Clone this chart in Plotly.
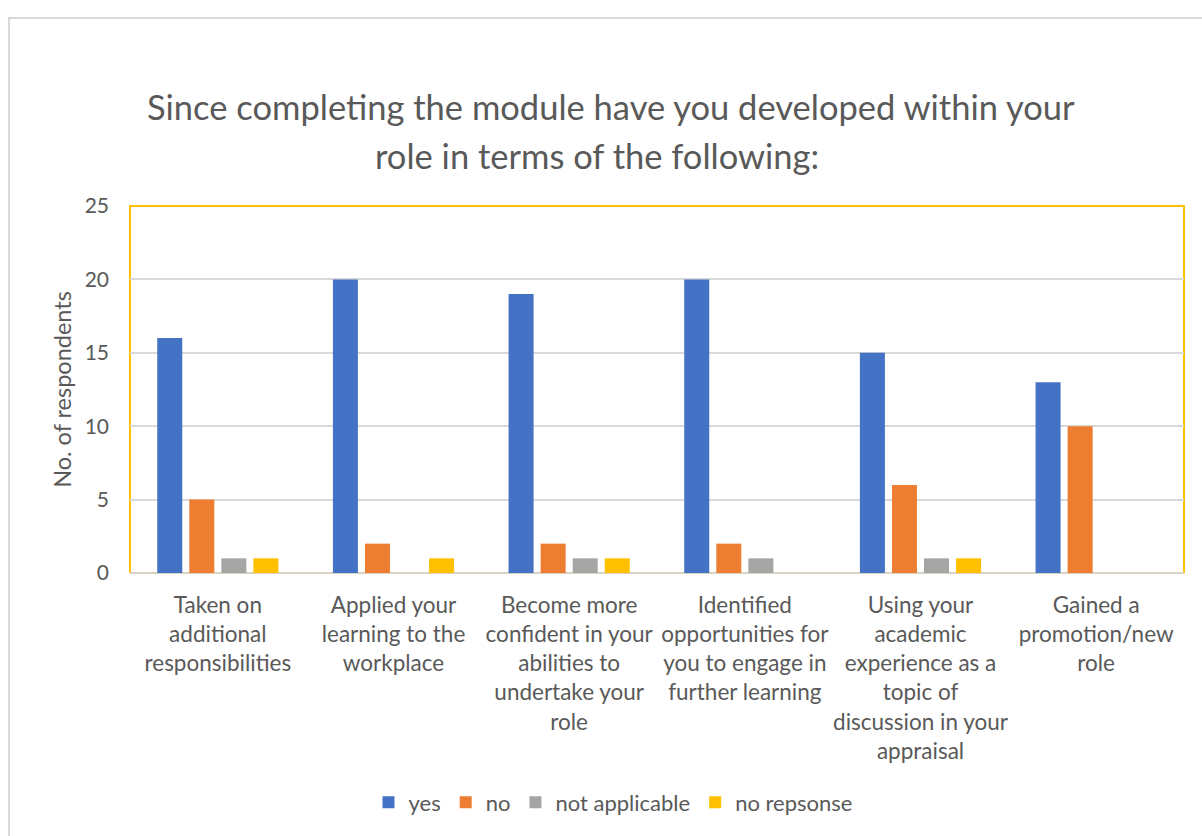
import plotly.graph_objects as go

categories = [
    "Taken on<br>additional<br>responsibilities",
    "Applied your<br>learning to the<br>workplace",
    "Become more<br>confident in your<br>abilities to<br>undertake your<br>role",
    "Identified<br>opportunities for<br>you to engage in<br>further learning",
    "Using your<br>academic<br>experience as a<br>topic of<br>discussion in your<br>appraisal",
    "Gained a<br>promotion/new<br>role",
]
yes = [16, 20, 19, 20, 15, 13]
no = [5, 2, 2, 2, 6, 10]
not_applicable = [1, 0, 1, 1, 1, 0]
no_response = [1, 1, 1, 0, 1, 0]

series = [
    ("yes", yes, "#4472C4"),
    ("no", no, "#ED7D31"),
    ("not applicable", not_applicable, "#A5A5A5"),
    ("no repsonse", no_response, "#FFC000"),
]

FONT = "Lato"
TXT = "#595959"

fig = go.Figure()
for name, vals, col in series:
    fig.add_trace(go.Bar(x=categories, y=vals, name=name,
                         marker=dict(color=col, line=dict(width=0))))

W, H = 1202, 836
L, R, T, B = 130, 18, 206, 259
PW, PH = W - L - R, H - T - B


def px(x):
    return (x - L) / PW


def py(y):
    return (H - B - y) / PH


fig.update_layout(
    width=W, height=H,
    margin=dict(l=L, r=R, t=T, b=B),
    paper_bgcolor="white", plot_bgcolor="white",
    barmode="group", bargap=0.27, bargroupgap=0.22,
    font=dict(family=FONT, color=TXT, size=22),
    showlegend=True,
    legend=dict(orientation="h", x=px(613), xanchor="center", y=py(809), yanchor="middle",
                font=dict(size=22, color=TXT), traceorder="normal"),
    xaxis=dict(showgrid=False, showline=False, ticks="", tickfont=dict(size=22.5, color=TXT),
               tickangle=0, automargin=False, ticklabelstandoff=16),
    yaxis=dict(range=[0, 25], dtick=5, showgrid=True, gridcolor="#D9D9D9", gridwidth=1.5,
               zeroline=True, zerolinecolor="#D9D3C4", zerolinewidth=2,
               showline=False, ticks="", tickfont=dict(size=21, color=TXT),
               ticklabelstandoff=20,
               title=dict(text="No. of respondents", font=dict(size=23.5, color=TXT), standoff=6),
               automargin=False),
    shapes=[
        dict(type="path", xref="paper", yref="paper",
             path="M 0 0 L 0 1 L 1 1 L 1 0",
             line=dict(color="#FFC000", width=2), fillcolor="rgba(0,0,0,0)", layer="below"),
        dict(type="rect", xref="paper", yref="paper",
             x0=px(9), x1=px(1210), y0=py(850), y1=py(16),
             line=dict(color="#D9D9D9", width=2), fillcolor="rgba(0,0,0,0)", layer="below"),
    ],
    annotations=[
        dict(text="Since completing the module have you developed within your",
             xref="paper", yref="paper", x=px(611), y=py(105),
             xanchor="center", yanchor="middle", showarrow=False,
             font=dict(size=34.5, color=TXT, family=FONT)),
        dict(text="role in terms of the following:",
             xref="paper", yref="paper", x=px(597), y=py(155),
             xanchor="center", yanchor="middle", showarrow=False,
             font=dict(size=34.5, color=TXT, family=FONT)),
    ],
)

fig.write_html("out.html")
